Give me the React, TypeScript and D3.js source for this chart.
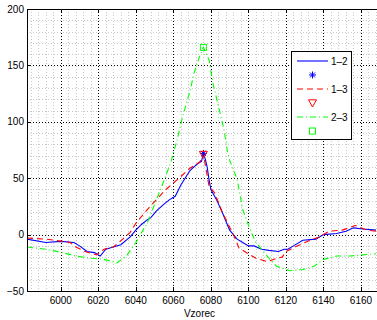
import { useEffect, useRef } from 'react'
import * as d3 from 'd3'

// sample index (Vzorec) and values
const X12 = [5982, 5992, 6000, 6007, 6010, 6014, 6018, 6020, 6021, 6024, 6028, 6032, 6037, 6040, 6043, 6046, 6048, 6051, 6055, 6058, 6061, 6064, 6067, 6069, 6071, 6073, 6075, 6076, 6077, 6078, 6079, 6080, 6083, 6086, 6090, 6094, 6097, 6100, 6103, 6107, 6111, 6116, 6119, 6121, 6124, 6129, 6136, 6140, 6147, 6152, 6156, 6161, 6168]
const Y12 = [-4, -7, -6, -7, -10, -15, -16, -18, -19, -13, -11, -9, -2, 4, 9, 13, 15, 21, 27, 31, 34, 44, 52, 57, 60, 63, 65, 72, 67, 60, 49, 40, 31, 20, 4, -4, -7, -10, -10, -13, -14, -15, -13, -13, -10, -5, -4, 0, 1, 3, 6, 5, 4]

const X13 = [5982, 5992, 6001, 6005, 6008, 6013, 6019, 6023, 6028, 6033, 6037, 6040, 6046, 6051, 6056, 6063, 6069, 6072, 6074, 6076, 6077, 6079, 6082, 6086, 6092, 6095, 6100, 6104, 6110, 6115, 6118, 6120, 6126, 6133, 6138, 6143, 6150, 6157, 6163, 6168]
const Y13 = [-3, -4, -6, -7, -11, -15, -18, -13, -11, -4, 2, 10, 22, 31, 40, 50, 59, 62, 64, 72, 62, 43, 37, 20, 0, -12, -17, -21, -24, -21, -20, -15, -10, -5, -2, 3, 4, 8, 4, 3]

const X23 = [5982, 5992, 6001, 6008, 6016, 6023, 6030, 6035, 6040, 6046, 6051, 6056, 6059, 6062, 6065, 6069, 6071, 6074, 6076, 6079, 6081, 6084, 6087, 6089, 6090, 6094, 6097, 6101, 6104, 6110, 6115, 6122, 6129, 6135, 6140, 6147, 6154, 6161, 6168]
const Y23 = [-11, -13, -16, -19, -21, -22, -25, -19, -7, 10, 31, 52, 66, 84, 105, 128, 143, 158, 166, 155, 135, 114, 93, 72, 66, 49, 22, 4, -7, -19, -28, -32, -31, -28, -22, -19, -19, -18, -17]

// peak markers
const PEAK_X = [6076, 6076, 6076]
const PEAK_Y = [72, 71, 166]

const X_TICKS = [6000, 6020, 6040, 6060, 6080, 6100, 6120, 6140, 6160]
const Y_TICKS = [-50, 0, 50, 100, 150, 200]

const LABELS = ['1–2', '1–3', '2–3']
const COLORS = ['#0000ff', '#ff0000', '#00ff00']
const DASHES = [null, '6,4', '6,3,1,3']

const W = 377
const H = 320
const FONT = '"Liberation Sans", Arial, sans-serif'

export default function App() {
  const svgRef = useRef<SVGSVGElement>(null)

  useEffect(() => {
    const svg = d3.select(svgRef.current)
    svg.selectAll('*').remove()

    const left = 27, right = 376, top = 9, bottom = 291
    const x = d3.scaleLinear().domain([5982, 6168]).range([left, right])
    const y = d3.scaleLinear().domain([-50, 200]).range([bottom, top])

    svg.append('rect').attr('width', W).attr('height', H).attr('fill', '#fff')

    const defs = svg.append('defs')
    defs.append('clipPath').attr('id', 'plot')
      .append('rect').attr('x', left).attr('y', top).attr('width', right - left + 2).attr('height', bottom - top)

    // minor grid
    const minorX = d3.range(5984, 6169, 4).filter(v => v % 20 !== 0)
    const minorY = d3.range(-40, 200, 10).filter(v => v % 50 !== 0)
    const grid = svg.append('g').attr('shape-rendering', 'crispEdges')
    grid.selectAll('.mx').data(minorX).enter().append('line')
      .attr('x1', d => Math.round(x(d)) + 0.5).attr('x2', d => Math.round(x(d)) + 0.5)
      .attr('y1', top).attr('y2', bottom)
      .attr('stroke', '#c8c8c8').attr('stroke-dasharray', '1,2')
    grid.selectAll('.my').data(minorY).enter().append('line')
      .attr('y1', d => Math.round(y(d)) + 0.5).attr('y2', d => Math.round(y(d)) + 0.5)
      .attr('x1', left).attr('x2', W)
      .attr('stroke', '#c8c8c8').attr('stroke-dasharray', '1,2')

    // major grid
    grid.selectAll('.gx').data(X_TICKS).enter().append('line')
      .attr('x1', d => Math.round(x(d)) + 0.5).attr('x2', d => Math.round(x(d)) + 0.5)
      .attr('y1', top).attr('y2', bottom)
      .attr('stroke', '#000').attr('stroke-dasharray', '1,2')
    grid.selectAll('.gy').data(Y_TICKS.slice(1, -1)).enter().append('line')
      .attr('y1', d => Math.round(y(d)) + 0.5).attr('y2', d => Math.round(y(d)) + 0.5)
      .attr('x1', left).attr('x2', W)
      .attr('stroke', '#000').attr('stroke-dasharray', '1,2')

    // lines
    const series = [[X12, Y12], [X13, Y13], [X23, Y23]]
    const line = d3.line<number>()
    const plot = svg.append('g').attr('clip-path', 'url(#plot)')
    series.forEach(([xs, ys], i) => {
      const pts = xs.map((v, j) => [x(v), y(ys[j])] as [number, number])
      plot.append('path')
        .attr('d', d3.line()(pts))
        .attr('fill', 'none')
        .attr('stroke', COLORS[i])
        .attr('stroke-width', 1.1)
        .attr('stroke-dasharray', DASHES[i])
    })

    // markers
    const drawMarker = (g: any, i: number, cx: number, cy: number) => {
      if (i === 0) {
        const r = 3.5
        for (let a = 0; a < 4; a++) {
          const t = a * Math.PI / 4
          g.append('line')
            .attr('x1', cx - r * Math.cos(t)).attr('y1', cy - r * Math.sin(t))
            .attr('x2', cx + r * Math.cos(t)).attr('y2', cy + r * Math.sin(t))
            .attr('stroke', COLORS[0]).attr('stroke-width', 1)
        }
      } else if (i === 1) {
        const s = 4
        g.append('path')
          .attr('d', `M${cx - s},${cy - s * 0.8}L${cx + s},${cy - s * 0.8}L${cx},${cy + s}Z`)
          .attr('fill', 'none').attr('stroke', COLORS[1]).attr('stroke-width', 1)
      } else {
        g.append('rect')
          .attr('x', cx - 3).attr('y', cy - 3).attr('width', 6).attr('height', 6)
          .attr('fill', 'none').attr('stroke', COLORS[2]).attr('stroke-width', 1)
      }
    }
    PEAK_X.forEach((v, i) => drawMarker(plot, i, x(v), y(PEAK_Y[i])))

    // axes box + ticks
    const ax = svg.append('g').attr('shape-rendering', 'crispEdges')
    ax.append('line').attr('x1', left + 0.5).attr('x2', left + 0.5).attr('y1', top).attr('y2', bottom + 1).attr('stroke', '#000')
    ax.append('line').attr('x1', left).attr('x2', W).attr('y1', bottom + 0.5).attr('y2', bottom + 0.5).attr('stroke', '#000')
    ax.append('line').attr('x1', left).attr('x2', W).attr('y1', top + 0.5).attr('y2', top + 0.5).attr('stroke', '#000')
    X_TICKS.forEach(v => {
      const px = Math.round(x(v)) + 0.5
      ax.append('line').attr('x1', px).attr('x2', px).attr('y1', bottom).attr('y2', bottom - 4).attr('stroke', '#000')
      ax.append('line').attr('x1', px).attr('x2', px).attr('y1', top).attr('y2', top + 4).attr('stroke', '#000')
    })
    Y_TICKS.forEach(v => {
      const py = Math.round(y(v)) + 0.5
      ax.append('line').attr('x1', left).attr('x2', left + 4).attr('y1', py).attr('y2', py).attr('stroke', '#000')
    })

    // tick labels
    svg.append('g').selectAll('text').data(X_TICKS).enter().append('text')
      .attr('x', d => x(d)).attr('y', 304)
      .attr('text-anchor', 'middle')
      .attr('font-family', FONT).attr('font-size', 10).attr('fill', '#000')
      .text(d => String(d))
    svg.append('g').selectAll('text').data(Y_TICKS).enter().append('text')
      .attr('x', 24).attr('y', d => y(d) + 3.5)
      .attr('text-anchor', 'end')
      .attr('font-family', FONT).attr('font-size', 10).attr('fill', '#000')
      .text(d => (d < 0 ? '\u2212' + Math.abs(d) : String(d)))

    svg.append('text')
      .attr('x', (left + right) / 2 - 2).attr('y', 317)
      .attr('text-anchor', 'middle')
      .attr('font-family', FONT).attr('font-size', 10).attr('fill', '#000')
      .text('Vzorec')

    // legend
    const lg = svg.append('g')
    lg.append('rect')
      .attr('x', 291.5).attr('y', 51.5).attr('width', 60).attr('height', 88)
      .attr('fill', '#fff').attr('stroke', '#000').attr('stroke-width', 1)
      .attr('shape-rendering', 'crispEdges')
    LABELS.forEach((lab, i) => {
      const ly = 61 + i * 28
      lg.append('line')
        .attr('x1', 297).attr('x2', 328).attr('y1', ly).attr('y2', ly)
        .attr('stroke', COLORS[i]).attr('stroke-width', 1.1)
        .attr('stroke-dasharray', DASHES[i])
      lg.append('text')
        .attr('x', 331).attr('y', ly + 3.5)
        .attr('font-family', FONT).attr('font-size', 10).attr('fill', '#000')
        .text(lab)
      drawMarker(lg, i, 312.5, ly + 14)
    })
  }, [])

  return (
    <svg ref={svgRef} width={W} height={H}
      style={{ position: 'absolute', left: 0, top: 0, display: 'block' }} />
  )
}
